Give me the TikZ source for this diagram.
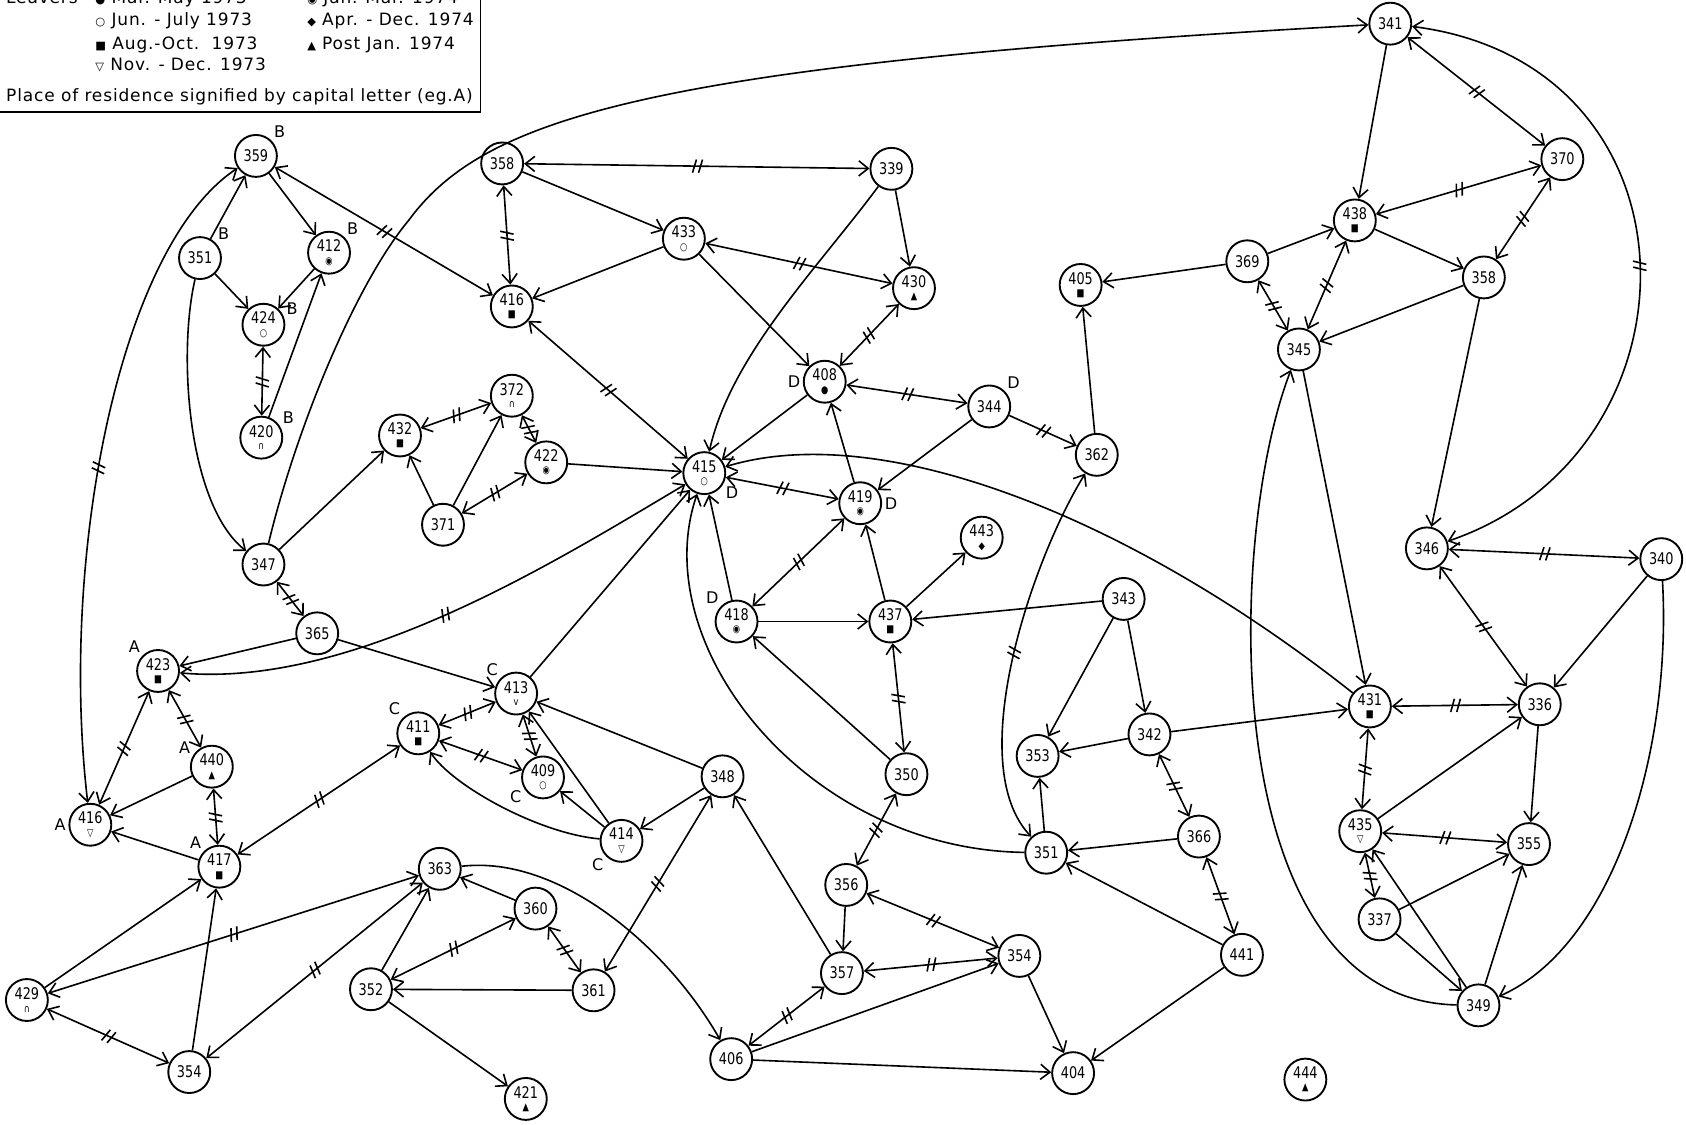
\documentclass[tikz,border=0pt]{standalone}
\usepackage{fontspec}
\setmainfont{DejaVu Sans}
\newfontfamily\numfont[FakeStretch=0.8]{DejaVu Sans}
\newfontfamily\legfont[LetterSpace=5]{DejaVu Sans}
\usepackage{tikz}
\usetikzlibrary{arrows.meta, decorations.markings}
\newcommand{\perssym}[1]{{\fontsize{5.5}{5.5}\selectfont #1}}

\begin{document}
\begin{tikzpicture}[
    x=0.02cm, y=-0.02cm, line width=0.85pt,
    >={Straight Barb[length=5pt,width=8pt]},
    pers/.style={circle, draw, line width=1pt, minimum size=0.78cm, inner sep=0pt, align=center,
      font=\numfont\fontsize{8.5}{8.5}\selectfont},
    res/.style={font=\fontsize{8.5}{8.5}\selectfont, inner sep=1pt},
    leg/.style={font=\legfont\fontsize{9}{10}\selectfont, anchor=base west, inner sep=0pt},
    ticks/.style={postaction={decorate, decoration={markings, mark=at position 0.5 with
      {\draw[-] (-2.2pt,-3.5pt) -- (-0.2pt,3.5pt) (1pt,-3.5pt) -- (3pt,3.5pt);}}}},
    mutual/.style={<->, ticks}
  ]
  \useasboundingbox (0,0) rectangle (1568,1046);

  % legend
  \draw (-5,-30) rectangle (447,104);
  \node[leg] (lg0) at (5,3) {Leavers};
  \node[leg] (lg1) at (88,3) {{\fontsize{6}{6}\selectfont ●} Mar.-May 1973};
  \node[leg] (lg2) at (285,3) {{\fontsize{6}{6}\selectfont ◉} Jan.-Mar. 1974};
  \node[leg] (lg3) at (88,24) {{\fontsize{6}{6}\selectfont ○} Jun. - July 1973};
  \node[leg] (lg4) at (285,24) {{\fontsize{6}{6}\selectfont ◆} Apr. - Dec. 1974};
  \node[leg] (lg5) at (88,46) {{\fontsize{6}{6}\selectfont ■} Aug.-Oct.\ \ 1973};
  \node[leg] (lg6) at (285,46) {{\fontsize{6}{6}\selectfont ▲} Post Jan. 1974};
  \node[leg] (lg7) at (88,66) {{\fontsize{6}{6}\selectfont ▽} Nov. - Dec. 1973};
  \node[leg] (lg8) at (5,94) {Place of residence signified by capital letter (eg.A)};

  % people
  \node[pers, label={[res]45:B}] (p359) at (238,145) {359};
  \node[pers, label={[res]45:B}] (p351a) at (186,240) {351};
  \node[pers, label={[res]45:B}] (p412) at (306,235) {412\\[-2pt]\perssym{◉}};
  \node[pers, label={[res]20:B}] (p424) at (245,302) {424\\[-2pt]\perssym{○}};
  \node[pers, label={[res]30:B}] (p420) at (243,407) {420\\[-2pt]\perssym{∩}};
  \node[pers] (p432) at (372,405) {432\\[-2pt]\perssym{■}};
  \node[pers] (p372) at (476,368) {372\\[-2pt]\perssym{∩}};
  \node[pers] (p422) at (508,430) {422\\[-2pt]\perssym{◉}};
  \node[pers] (p371) at (412,488) {371};
  \node[pers] (p347) at (245,525) {347};
  \node[pers] (p365) at (295,589) {365};
  \node[pers, label={[res]135:A}] (p423) at (147,624) {423\\[-2pt]\perssym{■}};
  \node[pers, label={[res]150:A}] (p440) at (197,713) {440\\[-2pt]\perssym{▲}};
  \node[pers, label={[res]180:A}] (p416b) at (84,767) {416\\[-2pt]\perssym{▽}};
  \node[pers, label={[res]135:A}] (p417) at (204,806) {417\\[-2pt]\perssym{■}};
  \node[pers] (p429) at (25,930) {429\\[-2pt]\perssym{∩}};
  \node[pers] (p354a) at (176,997) {354};
  \node[pers] (p363) at (409,808) {363};
  \node[pers] (p360) at (498,845) {360};
  \node[pers] (p361) at (552,921) {361};
  \node[pers] (p352) at (345,920) {352};
  \node[pers] (p421) at (489,1022) {421\\[-2pt]\perssym{▲}};
  \node[pers, label={[res]135:C}] (p411) at (389,682) {411\\[-2pt]\perssym{■}};
  \node[pers, label={[res]135:C}] (p413) at (480,645) {413\\[-2pt]\perssym{v}};
  \node[pers, label={[res]210:C}] (p409) at (505,723) {409\\[-2pt]\perssym{○}};
  \node[pers, label={[res]225:C}] (p414) at (578,782) {414\\[-2pt]\perssym{▽}};
  \node[pers] (p348) at (672,722) {348};
  \node[pers] (p406) at (680,985) {406};
  \node[pers] (p358a) at (467,152) {358};
  \node[pers] (p416a) at (476,285) {416\\[-2pt]\perssym{■}};
  \node[pers] (p433) at (636,222) {433\\[-2pt]\perssym{○}};
  \node[pers] (p339) at (829,157) {339};
  \node[pers] (p430) at (850,268) {430\\[-2pt]\perssym{▲}};
  \node[pers, label={[res]180:D}] (p408) at (767,355) {408\\[-2pt]\perssym{●}};
  \node[pers, label={[res]45:D}] (p344) at (920,378) {344};
  \node[pers, label={[res]-30:D}] (p415) at (655,440) {415\\[-2pt]\perssym{○}};
  \node[pers, label={[res]0:D}] (p419) at (800,468) {419\\[-2pt]\perssym{◉}};
  \node[pers] (p443) at (913,500) {443\\[-2pt]\perssym{◆}};
  \node[pers, label={[res]135:D}] (p418) at (685,578) {418\\[-2pt]\perssym{◉}};
  \node[pers] (p437) at (828,578) {437\\[-2pt]\perssym{■}};
  \node[pers] (p350) at (843,720) {350};
  \node[pers] (p356) at (787,823) {356};
  \node[pers] (p357) at (783,905) {357};
  \node[pers] (p354b) at (948,889) {354};
  \node[pers] (p404) at (998,998) {404};
  \node[pers] (p362) at (1020,423) {362};
  \node[pers] (p405) at (1005,265) {405\\[-2pt]\perssym{■}};
  \node[pers] (p369) at (1160,243) {369};
  \node[pers] (p438) at (1260,205) {438\\[-2pt]\perssym{■}};
  \node[pers] (p341) at (1293,22) {341};
  \node[pers] (p370) at (1453,148) {370};
  \node[pers] (p358b) at (1380,258) {358};
  \node[pers] (p345) at (1208,325) {345};
  \node[pers] (p346) at (1327,510) {346};
  \node[pers] (p340) at (1545,520) {340};
  \node[pers] (p431) at (1274,657) {431\\[-2pt]\perssym{■}};
  \node[pers] (p336) at (1432,655) {336};
  \node[pers] (p435) at (1265,773) {435\\[-2pt]\perssym{▽}};
  \node[pers] (p355) at (1422,785) {355};
  \node[pers] (p337) at (1283,855) {337};
  \node[pers] (p349) at (1375,935) {349};
  \node[pers] (p444) at (1214,1004) {444\\[-2pt]\perssym{▲}};
  \node[pers] (p343) at (1045,557) {343};
  \node[pers] (p342) at (1069,683) {342};
  \node[pers] (p353) at (965,703) {353};
  \node[pers] (p366) at (1115,778) {366};
  \node[pers] (p351b) at (973,793) {351};
  \node[pers] (p441) at (1155,888) {441};

  % ties
  \draw[->] (p351a) -- (p359);
  \draw[mutual] (p359) .. controls (110,230) and (55,520) .. (p416b);
  \draw[->] (p359) -- (p412);
  \draw[mutual] (p359) -- (p416a);
  \draw[->] (p351a) -- (p424);
  \draw[->] (p412) -- (p424);
  \draw[mutual] (p424) -- (p420);
  \draw[->] (p420) -- (p412);
  \draw[->] (p351a) .. controls (165,330) and (175,470) .. (p347);
  \draw[->] (p347) .. controls (275,400) and (330,265) .. (380,205)
                   .. controls (450,110) and (600,60) .. (p341);
  \draw[->] (p347) -- (p432);
  \draw[->] (p371) -- (p432);
  \draw[mutual] (p432) -- (p372);
  \draw[->] (p371) -- (p372);
  \draw[mutual] (p372) -- (p422);
  \draw[mutual] (p371) -- (p422);
  \draw[->] (p422) -- (p415);
  \draw[mutual] (p347) -- (p365);
  \draw[->] (p365) -- (p423);
  \draw[->] (p365) -- (p413);
  \draw[mutual] (p423) .. controls (330,640) and (520,520) .. (p415);
  \draw[mutual] (p423) -- (p416b);
  \draw[mutual] (p423) -- (p440);
  \draw[->] (p440) -- (p416b);
  \draw[mutual] (p440) -- (p417);
  \draw[->] (p417) -- (p416b);
  \draw[mutual] (p417) -- (p411);
  \draw[->] (p429) -- (p417);
  \draw[mutual] (p429) -- (p363);
  \draw[mutual] (p429) -- (p354a);
  \draw[->] (p354a) -- (p417);
  \draw[mutual] (p354a) -- (p363);
  \draw[->] (p352) -- (p363);
  \draw[->] (p360) -- (p363);
  \draw[mutual] (p352) -- (p360);
  \draw[->] (p361) -- (p352);
  \draw[mutual] (p360) -- (p361);
  \draw[->] (p352) -- (p421);
  \draw[->] (p363) .. controls (520,795) and (620,880) .. (p406);
  \draw[mutual] (p348) -- (p361);
  \draw[->] (p357) -- (p348);
  \draw[->] (p348) -- (p414);
  \draw[->] (p348) -- (p413);
  \draw[->] (p414) -- (p413);
  \draw[->] (p414) -- (p409);
  \draw[->] (p414) .. controls (500,775) and (420,730) .. (p411);
  \draw[mutual] (p411) -- (p413);
  \draw[mutual] (p411) -- (p409);
  \draw[mutual] (p413) -- (p409);
  \draw[->] (p413) -- (p415);
  \draw[mutual] (p416a) -- (p415);
  \draw[mutual] (p358a) -- (p339);
  \draw[->] (p358a) -- (p433);
  \draw[mutual] (p358a) -- (p416a);
  \draw[->] (p433) -- (p416a);
  \draw[mutual] (p433) -- (p430);
  \draw[->] (p433) -- (p408);
  \draw[->] (p339) -- (p430);
  \draw[->] (p339) .. controls (760,250) and (680,330) .. (p415);
  \draw[mutual] (p430) -- (p408);
  \draw[->] (p408) -- (p415);
  \draw[mutual] (p408) -- (p344);
  \draw[->, ticks] (p344) -- (p362);
  \draw[->] (p344) -- (p419);
  \draw[->] (p419) -- (p408);
  \draw[mutual] (p415) -- (p419);
  \draw[->] (p418) -- (p415);
  \draw[mutual] (p418) -- (p419);
  \draw[->] (p437) -- (p419);
  \draw[->] (p437) -- (p443);
  \draw[->] (p418) -- (p437);
  \draw[->] (p343) -- (p437);
  \draw[->] (p350) -- (p418);
  \draw[mutual] (p437) -- (p350);
  \draw[mutual] (p350) -- (p356);
  \draw[->] (p356) -- (p357);
  \draw[mutual] (p356) -- (p354b);
  \draw[mutual] (p357) -- (p354b);
  \draw[->] (p406) -- (p354b);
  \draw[mutual] (p406) -- (p357);
  \draw[->] (p406) -- (p404);
  \draw[->] (p354b) -- (p404);
  \draw[->] (p441) -- (p404);
  \draw[->] (p441) -- (p351b);
  \draw[mutual] (p366) -- (p441);
  \draw[->] (p366) -- (p351b);
  \draw[mutual] (p342) -- (p366);
  \draw[->] (p342) -- (p353);
  \draw[->] (p343) -- (p353);
  \draw[->] (p343) -- (p342);
  \draw[->] (p342) -- (p431);
  \draw[->] (p351b) -- (p353);
  \draw[->] (p351b) .. controls (750,790) and (600,600) .. (p415);
  \draw[mutual] (p362) .. controls (960,520) and (895,710) .. (p351b);
  \draw[->] (p362) -- (p405);
  \draw[->] (p431) .. controls (1050,480) and (820,390) .. (p415);
  \draw[->] (p369) -- (p405);
  \draw[->] (p369) -- (p438);
  \draw[mutual] (p369) -- (p345);
  \draw[mutual] (p438) -- (p345);
  \draw[->] (p438) -- (p358b);
  \draw[->] (p358b) -- (p345);
  \draw[mutual] (p438) -- (p370);
  \draw[mutual] (p370) -- (p358b);
  \draw[->] (p341) -- (p438);
  \draw[mutual] (p341) -- (p370);
  \draw[mutual] (p341) .. controls (1590,60) and (1590,420) .. (p346);
  \draw[->] (p358b) -- (p346);
  \draw[mutual] (p346) -- (p340);
  \draw[mutual] (p346) -- (p336);
  \draw[->] (p340) -- (p336);
  \draw[->] (p340) .. controls (1555,700) and (1500,880) .. (p349);
  \draw[->] (p345) -- (p431);
  \draw[->] (p349) .. controls (1130,930) and (1140,500) .. (p345);
  \draw[mutual] (p431) -- (p336);
  \draw[mutual] (p431) -- (p435);
  \draw[->] (p435) -- (p336);
  \draw[->] (p336) -- (p355);
  \draw[mutual] (p435) -- (p355);
  \draw[mutual] (p435) -- (p337);
  \draw[->] (p337) -- (p355);
  \draw[->] (p337) -- (p349);
  \draw[->] (p349) -- (p435);
  \draw[->] (p349) -- (p355);
\end{tikzpicture}
\end{document}
